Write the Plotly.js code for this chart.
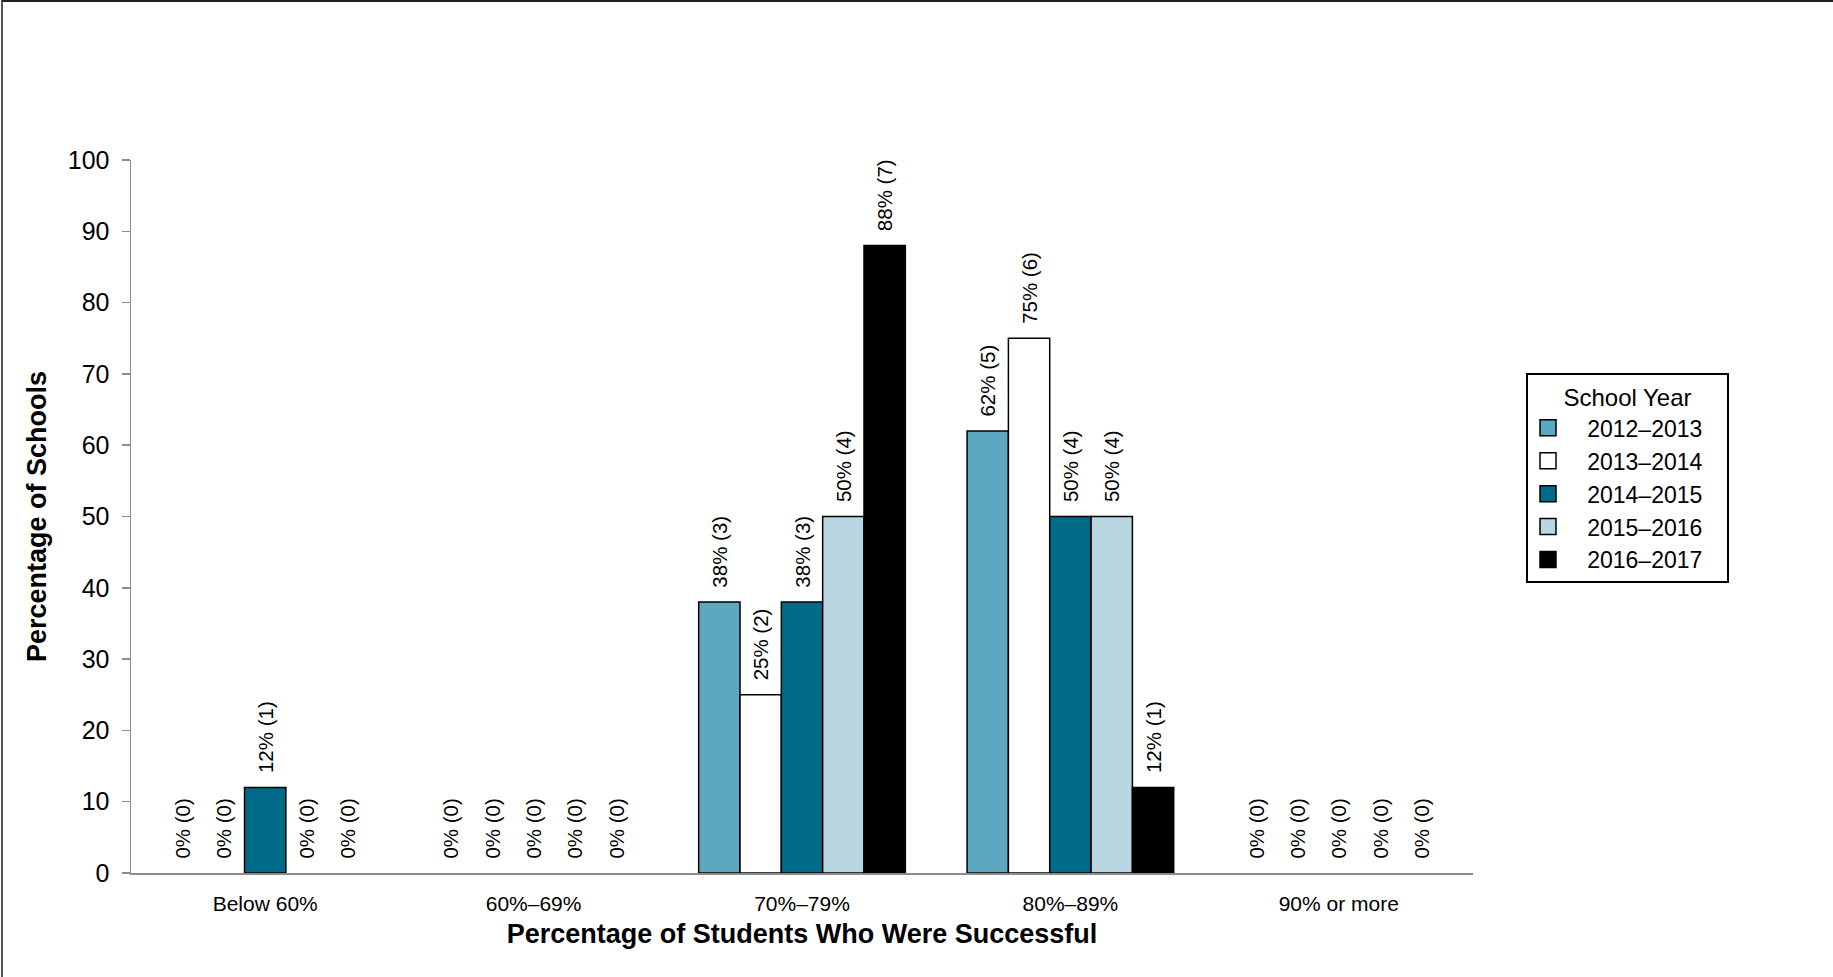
<!DOCTYPE html>
<html>
<head>
<meta charset="utf-8">
<script src="https://cdn.plot.ly/plotly-3.0.1.min.js"></script>
<style>
  html, body { margin: 0; padding: 0; background: #fff; }
  #wrap { position: relative; width: 1833px; height: 977px; }
  #chart { width: 1833px; height: 977px; }
  #frame { position: absolute; left: 1px; top: 0; width: 1832px; height: 977px;
           border-left: 2px solid #555; border-top: 2px solid #222; box-sizing: border-box; pointer-events: none; }
</style>
</head>
<body>
<div id="wrap"><div id="chart"></div><div id="frame"></div></div>
<script>
const categories = ['Below 60%', '60%–69%', '70%–79%', '80%–89%', '90% or more'];
const seriesNames = ['2012–2013', '2013–2014', '2014–2015', '2015–2016', '2016–2017'];
const pct2012 = [0, 0, 38, 62, 0];
const cnt2012 = [0, 0, 3, 5, 0];
const pct2013 = [0, 0, 25, 75, 0];
const cnt2013 = [0, 0, 2, 6, 0];
const pct2014 = [12, 0, 38, 50, 0];
const cnt2014 = [1, 0, 3, 4, 0];
const pct2015 = [0, 0, 50, 50, 0];
const cnt2015 = [0, 0, 4, 4, 0];
const pct2016 = [0, 0, 88, 12, 0];
const cnt2016 = [0, 0, 7, 1, 0];
const colors = ['#5BA8C0', '#FFFFFF', '#006A89', '#B8D7E2', '#000000'];

const pcts = [pct2012, pct2013, pct2014, pct2015, pct2016];
const cnts = [cnt2012, cnt2013, cnt2014, cnt2015, cnt2016];
const FONT = 'Liberation Sans, Arial, sans-serif';
const NB = '\u00a0';

const traces = [];
pcts.forEach((p, k) => {
  traces.push({
    type: 'bar',
    x: categories,
    y: p,
    name: seriesNames[k],
    showlegend: false,
    marker: { color: colors[k], line: { color: '#000', width: p.map(v => v > 0 ? 1.5 : 0) } },
    text: p.map((v, i) => NB + NB + v + '% (' + cnts[k][i] + ')'),
    textposition: 'outside',
    textangle: -90,
    constraintext: 'none',
    cliponaxis: false,
    textfont: { family: FONT, size: 20.5, color: '#000' },
    hoverinfo: 'skip'
  });
});
// legend proxies
seriesNames.forEach((n, k) => {
  traces.push({
    type: 'scatter',
    mode: 'markers',
    x: [null], y: [null],
    name: NB + NB + NB + n + NB + NB + NB,
    showlegend: true,
    marker: { symbol: 'square', size: 16, color: colors[k], line: { color: '#000', width: 1.5 } },
    hoverinfo: 'skip'
  });
});

const layout = {
  width: 1833, height: 977,
  paper_bgcolor: '#fff', plot_bgcolor: '#fff',
  margin: { l: 131, r: 360, t: 160, b: 104, pad: 0 },
  barmode: 'group',
  bargap: 0.23,
  bargroupgap: 0,
  font: { family: FONT, color: '#000' },
  showlegend: true,
  legend: {
    x: 1.0395, y: 0.701, xanchor: 'left', yanchor: 'top',
    bordercolor: '#000', borderwidth: 2, bgcolor: '#fff',
    font: { family: FONT, size: 23, color: '#000' },
    title: { text: 'School Year', side: 'top center', font: { family: FONT, size: 24, color: '#000' } },
    traceorder: 'normal'
  },
  xaxis: {
    type: 'category',
    range: [-0.5, 4.5],
    showline: true, linecolor: '#8c8c8c', linewidth: 1.5,
    showgrid: false, zeroline: false, ticks: '',
    tickfont: { family: FONT, size: 21, color: '#000' },
    ticklabelstandoff: 11,
    automargin: false,
    title: { text: 'Percentage of Students Who Were Successful', standoff: 10,
             font: { family: FONT, size: 27, color: '#000', weight: 'bold' } },
    fixedrange: true
  },
  yaxis: {
    range: [0, 100],
    tickvals: [0, 10, 20, 30, 40, 50, 60, 70, 80, 90, 100],
    showline: true, linecolor: '#8c8c8c', linewidth: 1.5,
    showgrid: false, zeroline: false,
    ticks: 'outside', ticklen: 8, tickwidth: 1.5, tickcolor: '#8c8c8c',
    tickfont: { family: FONT, size: 25, color: '#000' },
    ticklabelstandoff: 7,
    automargin: false,
    title: { text: 'Percentage of Schools', standoff: 13,
             font: { family: FONT, size: 27, color: '#000', weight: 'bold' } },
    fixedrange: true
  }
};

Plotly.newPlot('chart', traces, layout, { displayModeBar: false, staticPlot: true });
</script>
</body>
</html>
